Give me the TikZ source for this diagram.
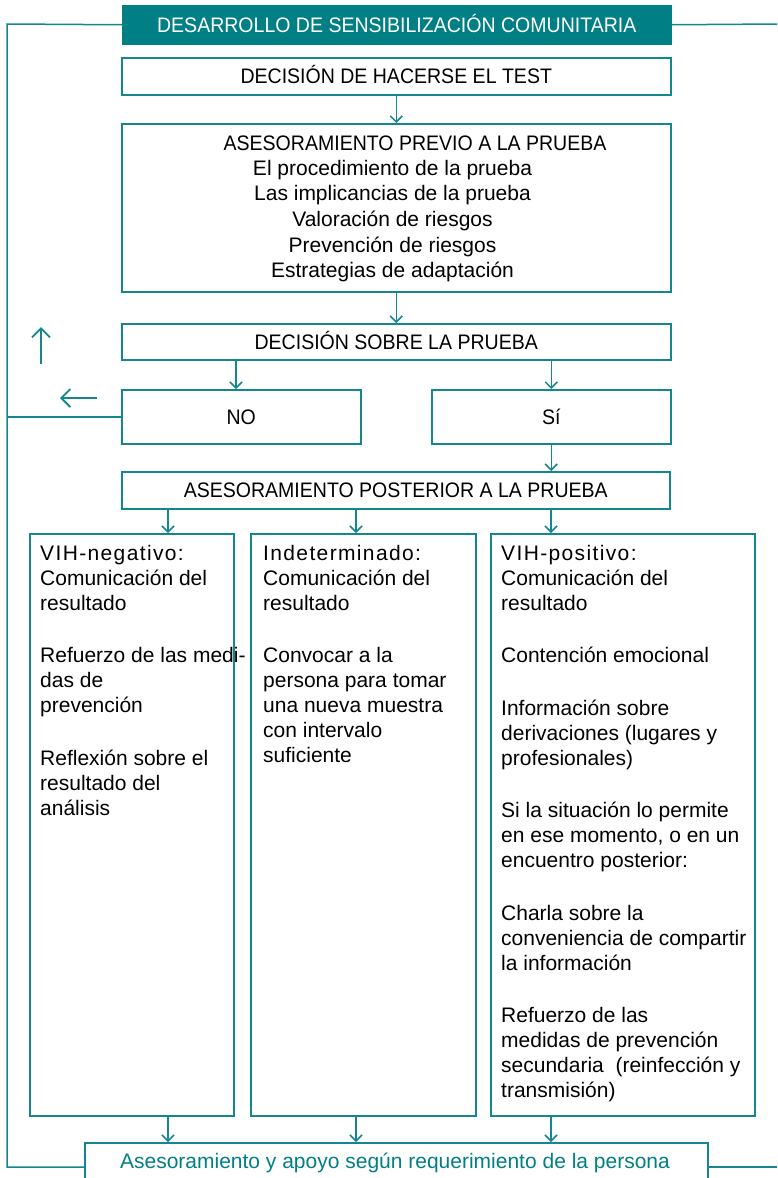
\documentclass[tikz,border=0pt]{standalone}
\usepackage{fontspec}
\setmainfont{Liberation Sans}
\newfontfamily\capsfont[FakeStretch=0.93]{Liberation Sans}
\newfontfamily\headfont[LetterSpace=6.5]{Liberation Sans}
\usetikzlibrary{arrows.meta}
\definecolor{tealfill}{RGB}{0,127,133}
\definecolor{tline}{RGB}{20,134,143}
\tikzset{
  box/.style={draw=tline, line width=1.5pt, inner sep=0pt, anchor=north west},
  capstxt/.style={font=\capsfont\fontsize{21}{25}\selectfont, text height=15pt, text depth=0pt},
  body/.style={font=\fontsize{21}{25}\selectfont, inner sep=0pt},
  conn/.style={draw=tline, line width=1.5pt},
  arr/.style={conn, -{Straight Barb[length=6pt,width=12pt]}},
  freearr/.style={conn, line width=1.8pt, -{Straight Barb[length=9pt,width=18pt]}},
}
\begin{document}
\begin{tikzpicture}[x=1pt,y=-1pt]
\useasboundingbox (0,0) rectangle (777,1178);
\clip (0,0) rectangle (777,1178);

% boxes
\node[box, fill=tealfill, draw=tealfill, minimum width=548pt, minimum height=38pt, capstxt, text=white] (title) at (122,5) {DESARROLLO DE SENSIBILIZACIÓN COMUNITARIA};
\node[box, minimum width=549pt, minimum height=37pt, capstxt] (dec1) at (121,57) {DECISIÓN DE HACERSE EL TEST};
\node[box, minimum width=549pt, minimum height=168pt] (prev) at (121,123) {};
\node[capstxt, anchor=base, inner sep=0pt] (prevtitle) at (415,150) {ASESORAMIENTO PREVIO A LA PRUEBA};
\node[body, font=\fontsize{21}{25.6}\selectfont, align=center, anchor=north] (prevlist) at (392.5,155)
  {\rule{0pt}{20pt}El procedimiento de la prueba\\Las implicancias de la prueba\\Valoración de riesgos\\Prevención de riesgos\\Estrategias de adaptación};
\node[box, minimum width=549pt, minimum height=36pt, capstxt] (dec2) at (121,323) {DECISIÓN SOBRE LA PRUEBA};
\node[box, minimum width=239pt, minimum height=54pt, capstxt] (no) at (121,389) {NO};
\node[box, minimum width=239pt, minimum height=54pt, capstxt] (si) at (431,389) {Sí};
\node[box, minimum width=548pt, minimum height=37pt, capstxt] (post) at (121,471) {ASESORAMIENTO POSTERIOR A LA PRUEBA};
\node[box, minimum width=204pt, minimum height=582pt] (neg) at (29,533) {};
\node[box, minimum width=225pt, minimum height=582pt] (ind) at (250,533) {};
\node[box, minimum width=264pt, minimum height=582pt] (pos) at (490,533) {};
\node[box, minimum width=623pt, minimum height=60pt] (final) at (84,1142) {};
\node[anchor=base, inner sep=0pt, font=\fontsize{21}{25}\selectfont, text=tealfill] (finaltxt) at (395,1168)
  {Asesoramiento y apoyo según requerimiento de la persona};

% column texts
\node[body, align=left, anchor=north west] (negtxt) at (40,540)
  {\rule{0pt}{20pt}{\headfont VIH-negativo:}\\Comunicación del\\resultado\\[27.5pt]Refuerzo de las medi-\\das de\\prevención\\[27.5pt]Reflexión sobre el\\resultado del\\análisis};
\node[body, align=left, anchor=north west] (indtxt) at (263,540)
  {\rule{0pt}{20pt}{\headfont Indeterminado:}\\Comunicación del\\resultado\\[27.5pt]Convocar a la\\persona para tomar\\una nueva muestra\\con intervalo\\suficiente};
\node[body, align=left, anchor=north west] (postxt) at (501,540)
  {\rule{0pt}{20pt}{\headfont VIH-positivo:}\\Comunicación del\\resultado\\[27.5pt]Contención emocional\\[27.5pt]Información sobre\\derivaciones (lugares y\\profesionales)\\[27.5pt]Si la situación lo permite\\en ese momento, o en un\\encuentro posterior:\\[27.5pt]Charla sobre la\\conveniencia de compartir\\la información\\[27.5pt]Refuerzo de las\\medidas de prevención\\secundaria~ (reinfección y\\transmisión)};

% connectors
\coordinate (xa) at (236,0);
\coordinate (c1) at (168,0);
\coordinate (c2) at (356,0);
\coordinate (c3) at (551,0);
\draw[arr] (dec1.south) -- (prev.north);
\draw[arr] (prev.south) -- (dec2.north);
\draw[arr] (dec2.south -| xa) -- (no.north -| xa);
\draw[arr] (dec2.south -| si.north) -- (si.north);
\draw[arr] (si.south) -- (post.north -| si.south);
\draw[arr] (post.south -| c1) -- (neg.north -| c1);
\draw[arr] (post.south -| c2) -- (ind.north -| c2);
\draw[arr] (post.south -| c3) -- (pos.north -| c3);
\draw[arr] (neg.south -| c1) -- (final.north -| c1);
\draw[arr] (ind.south -| c2) -- (final.north -| c2);
\draw[arr] (pos.south -| c3) -- (final.north -| c3);

% outer loop lines
\coordinate (tl) at (7,24);
\coordinate (bl) at (7,1167);
\coordinate (tr) at (777,24);
\coordinate (br) at (777,1167);
\draw[conn] (title.west) -- (tl) -- (bl) -- (bl -| final.west);
\draw[conn] (no.west) -- (no.west -| bl);
\draw[conn] (title.east) -- (tr);
\draw[conn] (final.east |- br) -- (br);

% free arrows
\coordinate (up1) at (41,364);
\coordinate (up2) at (41,327);
\draw[freearr] (up1) -- (up2);
\coordinate (lf1) at (97,398);
\coordinate (lf2) at (60,398);
\draw[freearr] (lf1) -- (lf2);
\end{tikzpicture}
\end{document}
